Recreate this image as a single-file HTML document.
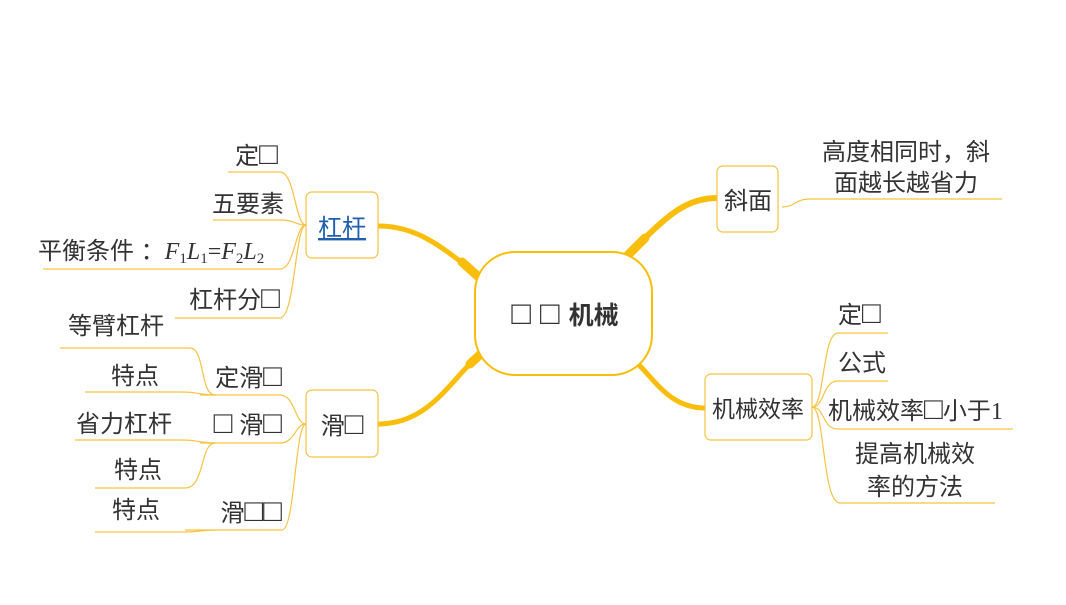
<!DOCTYPE html>
<html><head><meta charset="utf-8"><style>
html,body{margin:0;padding:0;background:#fff;}
svg text{font-family:"Liberation Sans","Noto Sans CJK SC",sans-serif;fill:#333;}
.b{font-size:1.3em;}
</style></head><body>
<svg width="1066" height="600" viewBox="0 0 1066 600" xmlns="http://www.w3.org/2000/svg">
<g fill="none" stroke="#F6C342" stroke-width="1.2">
<path d="M228,172 H280 C295,172 295,225 306,225"/>
<path d="M213,220 H280 C295,220 295,225 306,225"/>
<path d="M43,269 H280 C295,269 295,225 306,225"/>
<path d="M175,318 H280 C295,318 295,225 306,225"/>
<path d="M200,395 H280 C295,395 295,424 306,424"/>
<path d="M200,443 H280 C295,443 295,424 306,424"/>
<path d="M185,530 H282 C295,530 295,424 306,424"/>
<path d="M60,348 H190 C205,348 200,395 215,395"/>
<path d="M85,392 H180 C200,392 200,395 215,395"/>
<path d="M75,440 H180 C200,440 200,443 215,443"/>
<path d="M95,488 H185 C205,488 200,443 215,443"/>
<path d="M95,532 H185 C200,532 200,530 215,530"/>
<path d="M782,207 C795,207 795,199 810,199 H1002"/>
<path d="M812,407 C825,407 822,333 838,333 H888"/>
<path d="M812,407 C825,407 822,381 838,381 H888"/>
<path d="M812,407 C825,407 822,429 838,429 H1013"/>
<path d="M812,407 C825,407 822,503 840,503 H995"/>
</g>
<g fill="none" stroke="#F9BE0B" stroke-linecap="round">
<path d="M378,226 C420,226 445,250 482,278" stroke-width="5"/>
<path d="M462,262 L482,280" stroke-width="9"/>
<path d="M378,424 C430,424 450,380 482,352" stroke-width="5"/>
<path d="M470,364 L485,350" stroke-width="9"/>
<path d="M717,198 C680,198 660,225 630,252" stroke-width="6"/>
<path d="M628,255 L645,238" stroke-width="9"/>
<path d="M705,408 C670,408 655,380 637,363" stroke-width="5"/>
</g>
<rect x="475" y="252" width="177" height="123" rx="40" fill="#fff" stroke="#F9BE0B" stroke-width="2"/>
<g fill="#fff" stroke="#F6C342" stroke-width="1.2">
<rect x="306" y="192" width="72" height="66" rx="6"/>
<rect x="306" y="390" width="72" height="67" rx="6"/>
<rect x="717" y="166" width="61" height="66" rx="6"/>
<rect x="705" y="374" width="107" height="66" rx="6"/>
</g>
<text x="565" y="324" font-size="25" font-weight="bold" text-anchor="middle"><tspan class="b">□ □ </tspan>机械</text>
<text x="342" y="236" font-size="24" text-anchor="middle" style="fill:#1F5FAD" text-decoration="underline">杠杆</text>
<text x="342" y="434" font-size="24" text-anchor="middle">滑<tspan class="b">□</tspan></text>
<text x="748" y="209" font-size="24" text-anchor="middle">斜面</text>
<text x="758" y="417" font-size="23" text-anchor="middle">机械效率</text>
<g font-size="24">
<text x="278" y="164" text-anchor="end">定<tspan class="b">□</tspan></text>
<text x="284" y="212" text-anchor="end">五要素</text>
<text x="38" y="259">平衡条件 ：<tspan font-family="Liberation Serif" font-style="italic">F</tspan><tspan font-family="Liberation Serif" font-size="15" dy="4">1</tspan><tspan font-family="Liberation Serif" font-style="italic" dy="-4">L</tspan><tspan font-family="Liberation Serif" font-size="15" dy="4">1</tspan><tspan font-family="Liberation Serif" dy="-4">=</tspan><tspan font-family="Liberation Serif" font-style="italic">F</tspan><tspan font-family="Liberation Serif" font-size="15" dy="4">2</tspan><tspan font-family="Liberation Serif" font-style="italic" dy="-4">L</tspan><tspan font-family="Liberation Serif" font-size="15" dy="4">2</tspan></text>
<text x="280" y="308" text-anchor="end">杠杆分<tspan class="b">□</tspan></text>
<text x="68" y="334">等臂杠杆</text>
<text x="282" y="386" text-anchor="end">定滑<tspan class="b">□</tspan></text>
<text x="111" y="384">特点</text>
<text x="282" y="433" text-anchor="end"><tspan class="b">□</tspan> 滑<tspan class="b">□</tspan></text>
<text x="76" y="432">省力杠杆</text>
<text x="114" y="478">特点</text>
<text x="112" y="518">特点</text>
<text x="282" y="521" text-anchor="end">滑<tspan class="b">□□</tspan></text>
<text x="906" y="160" text-anchor="middle">高度相同时，斜</text>
<text x="906" y="191" text-anchor="middle">面越长越省力</text>
<text x="838" y="323">定<tspan class="b">□</tspan></text>
<text x="838" y="371">公式</text>
<text x="828" y="419">机械效率<tspan class="b">□</tspan>小于<tspan font-family="Liberation Serif">1</tspan></text>
<text x="915" y="462" text-anchor="middle">提高机械效</text>
<text x="915" y="495" text-anchor="middle">率的方法</text>
</g>
</svg>
</body></html>
